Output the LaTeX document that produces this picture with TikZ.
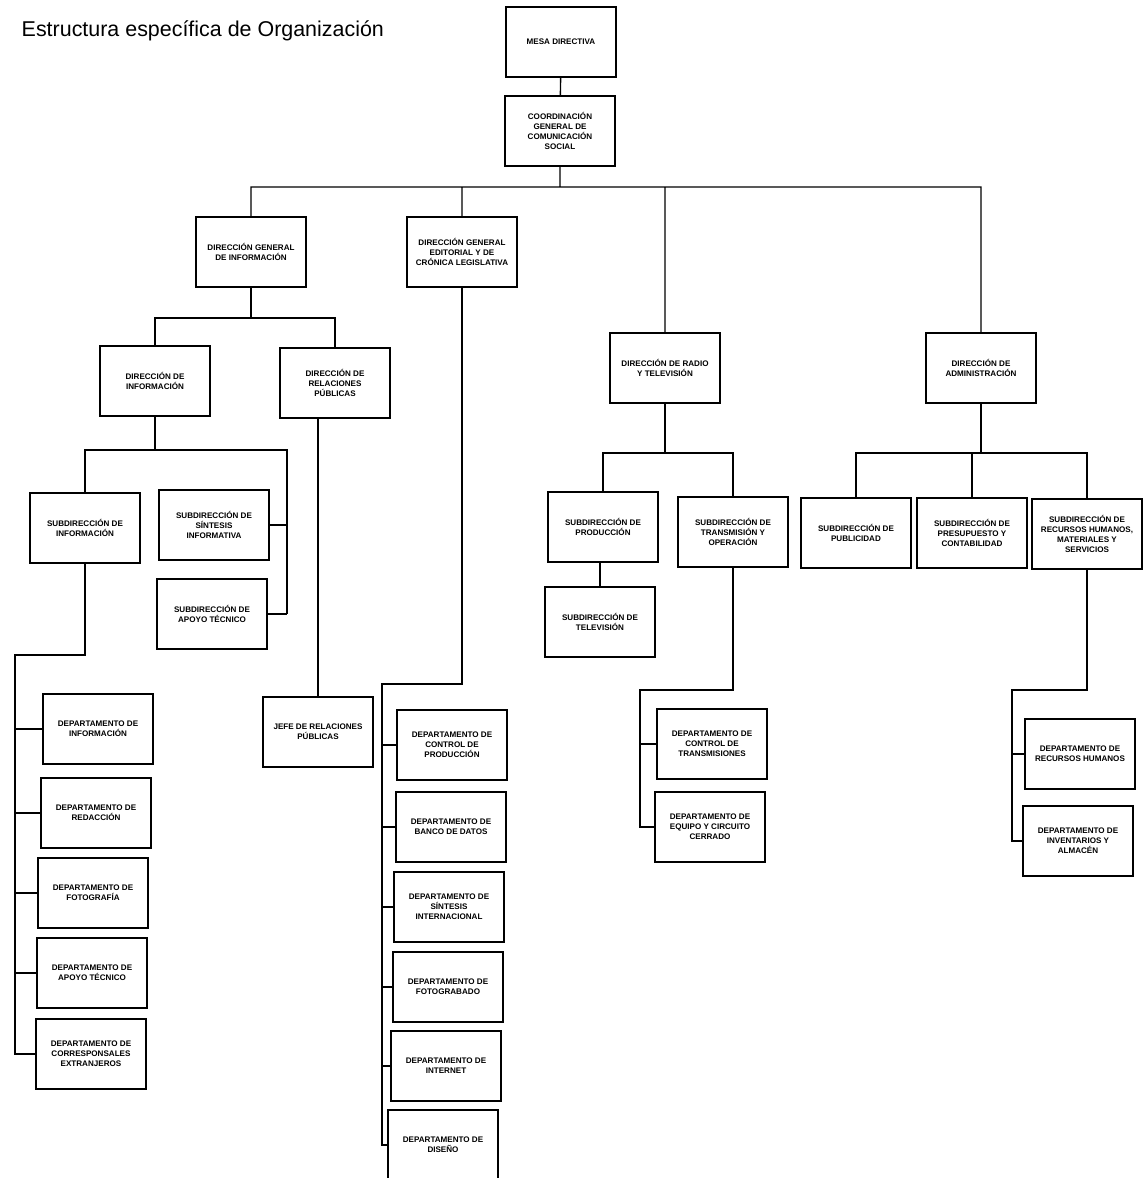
\documentclass[tikz,border=0pt]{standalone}
\usepackage{fontspec}
\setmainfont{Liberation Sans}
\usepackage{tikz}

\begin{document}
\begin{tikzpicture}[x=0.02cm,y=-0.02cm]
%  \draw [step=50,color=gray] (0,0) grid (1146,1178);
  \useasboundingbox (0,0) rectangle (1146,1178);
  \tikzstyle{every node}=[draw,line width=1.1pt,minimum width=2.2cm,minimum height=1.4cm,
    align=center,inner sep=1pt,font=\fontsize{4.6}{5.8}\selectfont\bfseries];
  \tikzstyle{link}=[line width=0.8pt];

  \path (19,31) node[draw=none,anchor=west,minimum width=0pt,minimum height=0pt,
    font=\fontsize{12.2}{14}\selectfont] (title) {Estructura específica de Organización};

  % mando superior
  \path (561,42) node (mesa) {MESA DIRECTIVA};
  \path (560,131) node (coord) {COORDINACIÓN\\GENERAL DE\\COMUNICACIÓN\\SOCIAL};

  % direcciones
  \path (251,252) node (dgi) {DIRECCIÓN GENERAL\\DE INFORMACIÓN};
  \path (462,252) node (dge) {DIRECCIÓN GENERAL\\EDITORIAL Y DE\\CRÓNICA LEGISLATIVA};
  \path (665,368) node (drtv) {DIRECCIÓN DE RADIO\\Y TELEVISIÓN};
  \path (981,368) node (dadm) {DIRECCIÓN DE\\ADMINISTRACIÓN};
  \path (155,381) node (dinf) {DIRECCIÓN DE\\INFORMACIÓN};
  \path (335,383) node (drp) {DIRECCIÓN DE\\RELACIONES\\PÚBLICAS};

  % subdirecciones
  \path (85,528) node (sinf) {SUBDIRECCIÓN DE\\INFORMACIÓN};
  \path (214,525) node (ssin) {SUBDIRECCIÓN DE\\SÍNTESIS\\INFORMATIVA};
  \path (212,614) node (sapo) {SUBDIRECCIÓN DE\\APOYO TÉCNICO};
  \path (603,527) node (spro) {SUBDIRECCIÓN DE\\PRODUCCIÓN};
  \path (600,622) node (stel) {SUBDIRECCIÓN DE\\TELEVISIÓN};
  \path (733,532) node (stra) {SUBDIRECCIÓN DE\\TRANSMISIÓN Y\\OPERACIÓN};
  \path (856,533) node (spub) {SUBDIRECCIÓN DE\\PUBLICIDAD};
  \path (972,533) node (spre) {SUBDIRECCIÓN DE\\PRESUPUESTO Y\\CONTABILIDAD};
  \path (1087,534) node (srh) {SUBDIRECCIÓN DE\\RECURSOS HUMANOS,\\MATERIALES Y\\SERVICIOS};

  % departamentos
  \path (98,729) node (dpinf) {DEPARTAMENTO DE\\INFORMACIÓN};
  \path (96,813) node (dpred) {DEPARTAMENTO DE\\REDACCIÓN};
  \path (93,893) node (dpfot) {DEPARTAMENTO DE\\FOTOGRAFÍA};
  \path (92,973) node (dpapo) {DEPARTAMENTO DE\\APOYO TÉCNICO};
  \path (91,1054) node (dpcor) {DEPARTAMENTO DE\\CORRESPONSALES\\EXTRANJEROS};
  \path (318,732) node (jrp) {JEFE DE RELACIONES\\PÚBLICAS};
  \path (452,745) node (dpcpr) {DEPARTAMENTO DE\\CONTROL DE\\PRODUCCIÓN};
  \path (451,827) node (dpban) {DEPARTAMENTO DE\\BANCO DE DATOS};
  \path (449,907) node (dpsin) {DEPARTAMENTO DE\\SÍNTESIS\\INTERNACIONAL};
  \path (448,987) node (dpfgr) {DEPARTAMENTO DE\\FOTOGRABADO};
  \path (446,1066) node (dpint) {DEPARTAMENTO DE\\INTERNET};
  \path (443,1145) node (dpdis) {DEPARTAMENTO DE\\DISEÑO};
  \path (712,744) node (dpctr) {DEPARTAMENTO DE\\CONTROL DE\\TRANSMISIONES};
  \path (710,827) node (dpequ) {DEPARTAMENTO DE\\EQUIPO Y CIRCUITO\\CERRADO};
  \path (1080,754) node (dprh) {DEPARTAMENTO DE\\RECURSOS HUMANOS};
  \path (1078,841) node (dpinv) {DEPARTAMENTO DE\\INVENTARIOS Y\\ALMACÉN};

  % puntos de quiebre
  \coordinate (bus) at (560,187);
  \coordinate (j0) at (251,318);
  \coordinate (j1) at (155,450);
  \coordinate (rv) at (287,614);
  \coordinate (lv) at (15,655);
  \coordinate (ev) at (382,684);
  \coordinate (j2) at (665,453);
  \coordinate (tv) at (640,690);
  \coordinate (j3) at (981,453);
  \coordinate (hv) at (1012,690);

  \draw [link] (mesa) -- (coord)
        (coord) -- (bus)
        (dgi) |- (bus) -| (dadm)
        (dge) -- (dge |- bus)
        (drtv) -- (drtv |- bus);

  \draw [link] (dgi) -- (j0)
        (dinf) |- (j0) -| (drp)
        (dinf) -- (j1)
        (sinf) |- (j1) -| (rv)
        (ssin) -- (ssin -| rv)
        (sapo) -- (rv)
        (sinf) |- (lv) |- (dpcor)
        (dpinf) -- (dpinf -| lv)
        (dpred) -- (dpred -| lv)
        (dpfot) -- (dpfot -| lv)
        (dpapo) -- (dpapo -| lv)
        (jrp) -- (jrp |- drp.south);

  \draw [link] (dge) |- (ev) |- (dpdis)
        (dpcpr) -- (dpcpr -| ev)
        (dpban) -- (dpban -| ev)
        (dpsin) -- (dpsin -| ev)
        (dpfgr) -- (dpfgr -| ev)
        (dpint) -- (dpint -| ev);

  \draw [link] (drtv) -- (j2)
        (spro) |- (j2) -| (stra)
        (stel) -- (stel |- spro.south)
        (stra) |- (tv) |- (dpequ)
        (dpctr) -- (dpctr -| tv);

  \draw [link] (dadm) -- (j3)
        (spub) |- (j3) -| (srh)
        (spre) -- (spre |- j3)
        (srh) |- (hv) |- (dpinv)
        (dprh) -- (dprh -| hv);
\end{tikzpicture}
\end{document}
